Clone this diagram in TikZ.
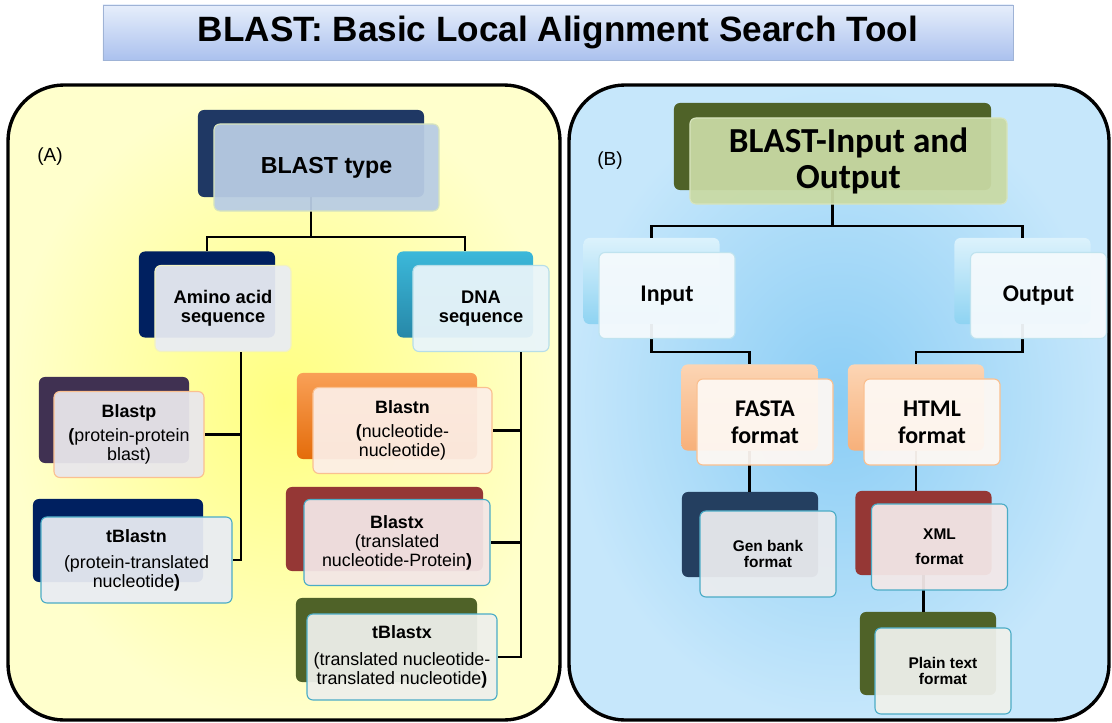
\documentclass[tikz,border=0pt]{standalone}
\usepackage{fontspec}
\setmainfont{Liberation Sans}
\newfontfamily\califont{Carlito}
\usepackage{tikz}
\definecolor{TitleTop}{HTML}{E6EEFB}
\definecolor{TitleBottom}{HTML}{ABC1EE}
\definecolor{TitleLine}{HTML}{9FB3D6}
\definecolor{LeftIn}{HTML}{FFFF80}
\definecolor{LeftOut}{HTML}{FFFFCC}
\definecolor{RightIn}{HTML}{8ACDF5}
\definecolor{RightOut}{HTML}{C6E7FB}
\definecolor{TypeNavy}{HTML}{1F3864}
\definecolor{DeepNavy}{HTML}{002060}
\definecolor{TypeFront}{HTML}{B8CCE4}
\definecolor{TypeLine}{HTML}{D7E4BD}
\definecolor{AminoFront}{HTML}{E9ECF3}
\definecolor{AminoLine}{HTML}{F2F2C2}
\definecolor{DnaTop}{HTML}{3BB8DA}
\definecolor{DnaBottom}{HTML}{2788A8}
\definecolor{DnaFront}{HTML}{E9F5FA}
\definecolor{DnaLine}{HTML}{B7DEE8}
\definecolor{BlastPurple}{HTML}{403152}
\definecolor{BlastpFront}{HTML}{E9E7EC}
\definecolor{PeachLine}{HTML}{FAC090}
\definecolor{OrangeTop}{HTML}{F9A057}
\definecolor{OrangeBottom}{HTML}{E46C0A}
\definecolor{BlastnFront}{HTML}{FCEEE6}
\definecolor{BlastMaroon}{HTML}{953735}
\definecolor{BlastxFront}{HTML}{F3E6E6}
\definecolor{BlastTeal}{HTML}{4BACC6}
\definecolor{BlastOlive}{HTML}{4F6228}
\definecolor{TblastxFront}{HTML}{EEF0EB}
\definecolor{IoFront}{HTML}{C9DAA4}
\definecolor{SkyTop}{HTML}{DCF2FC}
\definecolor{SkyBottom}{HTML}{8ED3F2}
\definecolor{SkyFront}{HTML}{F5FAFD}
\definecolor{SkyLine}{HTML}{BFE3EF}
\definecolor{PeachTop}{HTML}{FCD5B4}
\definecolor{PeachBottom}{HTML}{F7B07A}
\definecolor{PeachFront}{HTML}{FEF8F3}
\definecolor{GenNavy}{HTML}{243F60}
\definecolor{GenFront}{HTML}{EAECEF}
\definecolor{XmlFront}{HTML}{F3E8E8}
\definecolor{PlainFront}{HTML}{EFF1EC}

\begin{document}
\begin{tikzpicture}[x=0.025cm,y=-0.025cm,
    back/.style={rounded corners=0.15cm,minimum width=3.4cm,minimum height=2.15cm,inner sep=0pt},
    front/.style={rounded corners=0.15cm,minimum width=3.4cm,minimum height=2.15cm,inner sep=0pt,
      draw,line width=0.8pt,fill opacity=0.94,text opacity=1,align=center},
    link/.style={line width=1.7pt,black},
    panel/.style={line width=2.4pt,black,rounded corners=1.4cm},
    leaftext/.style={font=\fontsize{12.7}{13.5}\selectfont},
    smalltext/.style={font=\fontsize{11}{11.5}\selectfont\bfseries},
    caltext/.style={font=\califont\bfseries\fontsize{17}{19}\selectfont}]
  \useasboundingbox (0,0) rectangle (1112,723);
  \fill[white] (0,0) rectangle (1112,723);

  % title
  \node[draw=TitleLine,top color=TitleTop,bottom color=TitleBottom,minimum width=22.75cm,minimum height=1.375cm,
    font=\fontsize{25}{26}\selectfont\bfseries] (title) at (558,32.5) {BLAST: Basic Local Alignment Search Tool};

  % the two panels
  \draw[panel,inner color=LeftIn,outer color=LeftOut] (8,85) rectangle (560,720);
  \draw[panel,inner color=RightIn,outer color=RightOut] (569,85) rectangle (1109,720);
  \node[font=\fontsize{13.5}{14}\selectfont] (labela) at (50,157) {(A)};
  \node[font=\fontsize{13.5}{14}\selectfont] (labelb) at (610,161) {(B)};

  % (A) back boxes
  \node[back,fill=TypeNavy,minimum width=5.65cm,minimum height=2.175cm] (typeback) at (311,153.5) {};
  \node[back,fill=DeepNavy] (aminoback) at (207,294.5) {};
  \node[back,top color=DnaTop,bottom color=DnaBottom] (dnaback) at (465,294.5) {};
  \node[back,fill=BlastPurple,minimum width=3.75cm] (blastpback) at (114,420) {};
  \node[back,fill=DeepNavy,minimum width=4.25cm,minimum height=2.075cm] (tblastnback) at (118,540.5) {};
  \node[back,top color=OrangeTop,bottom color=OrangeBottom,minimum width=4.5cm] (blastnback) at (387,416) {};
  \node[back,fill=BlastMaroon,minimum width=4.925cm,minimum height=2.1cm] (blastxback) at (384.5,529) {};
  \node[back,fill=BlastOlive,minimum width=4.525cm,minimum height=2.1cm] (tblastxback) at (386.5,640) {};

  % (B) back boxes
  \node[back,fill=BlastOlive,minimum width=7.925cm,minimum height=2.175cm] (ioback) at (832.5,146.5) {};
  \node[back,top color=SkyTop,bottom color=SkyBottom] (inback) at (651.5,281) {};
  \node[back,top color=SkyTop,bottom color=SkyBottom] (outback) at (1022.5,281) {};
  \node[back,top color=PeachTop,bottom color=PeachBottom] (fastaback) at (749.5,407.5) {};
  \node[back,top color=PeachTop,bottom color=PeachBottom] (htmlback) at (916,407.5) {};
  \node[back,fill=GenNavy,minimum height=2.125cm] (genback) at (750,534.5) {};
  \node[back,fill=BlastMaroon,minimum height=2.1cm] (xmlback) at (923.5,533) {};
  \node[back,fill=BlastOlive,minimum height=2.075cm] (plainback) at (928,653.5) {};

  % links behind the front boxes
  \draw[link] (typeback.south) |- ([yshift=0.35cm]aminoback.north) -- (aminoback.north);
  \draw[link] (typeback.south) |- ([yshift=0.35cm]dnaback.north) -- (dnaback.north);
  \draw[link] (ioback.south) |- ([yshift=0.3cm]inback.north) -- (inback.north);
  \draw[link] (ioback.south) |- ([yshift=0.3cm]outback.north) -- (outback.north);
  \draw[link] (inback.south) |- ([yshift=0.3cm]fastaback.north) -- (fastaback.north);
  \draw[link] (outback.south) |- ([yshift=0.3cm]htmlback.north) -- (htmlback.north);
  \draw[link] (fastaback.south) -- (fastaback.south |- genback.north);
  \draw[link] (htmlback.south) -- (htmlback.south |- xmlback.north);
  \draw[link] (xmlback.south) -- (xmlback.south |- plainback.north);

  % (A) front boxes
  \node[front,draw=TypeLine,fill=TypeFront,minimum width=5.625cm,minimum height=2.175cm,
    font=\fontsize{16.5}{18}\selectfont\bfseries] (typefront) at (326.5,167.5) {BLAST type};
  \node[front,draw=AminoLine,fill=AminoFront,font=\fontsize{13}{13.5}\selectfont\bfseries] (aminofront) at (223,308.5) {Amino acid\\sequence};
  \node[front,draw=DnaLine,fill=DnaFront,font=\fontsize{13}{13.5}\selectfont\bfseries] (dnafront) at (481,308.5) {DNA\\sequence};
  \node[front,leaftext,draw=PeachLine,fill=BlastpFront,minimum width=3.75cm] (blastpfront) at (129,434.5)
    {\textbf{Blastp}\\[4pt]\textbf{(}protein-protein\\blast)};
  \node[front,leaftext,draw=BlastTeal,fill=AminoFront,minimum width=4.775cm] (tblastnfront) at (136.5,560)
    {\textbf{tBlastn}\\[5pt](protein-translated\\nucleotide\textbf{)}};
  \node[front,leaftext,draw=PeachLine,fill=BlastnFront,minimum width=4.475cm] (blastnfront) at (402.5,430.5)
    {\textbf{Blastn}\\[4pt]\textbf{(}nucleotide-\\nucleotide)};
  \node[front,leaftext,draw=BlastTeal,fill=BlastxFront,minimum width=4.65cm] (blastxfront) at (397,542.5)
    {\textbf{Blastx}\\(translated\\nucleotide-Protein\textbf{)}};
  \node[front,leaftext,draw=BlastTeal,fill=TblastxFront,minimum width=4.75cm] (tblastxfront) at (402,657)
    {\textbf{tBlastx}\\[6pt](translated nucleotide-\\translated nucleotide\textbf{)}};

  % (B) front boxes
  \node[front,draw=TypeLine,fill=IoFront,minimum width=7.925cm,
    font=\califont\bfseries\fontsize{25}{25.5}\selectfont] (iofront) at (848.5,161) {BLAST-Input and\\Output};
  \node[front,caltext,draw=SkyLine,fill=SkyFront] (infront) at (667,295.5) {Input};
  \node[front,caltext,draw=SkyLine,fill=SkyFront] (outfront) at (1038.5,295.5) {Output};
  \node[front,caltext,draw=PeachLine,fill=PeachFront] (fastafront) at (765,422) {FASTA\\format};
  \node[front,caltext,draw=PeachLine,fill=PeachFront] (htmlfront) at (932,422) {HTML\\format};
  \node[front,smalltext,draw=BlastTeal,fill=GenFront] (genfront) at (768,554) {Gen bank\\format};
  \node[front,smalltext,draw=BlastTeal,fill=XmlFront] (xmlfront) at (939.5,547) {XML\\[6pt]format};
  \node[front,smalltext,draw=BlastTeal,fill=PlainFront] (plainfront) at (943,671) {Plain text\\format};

  % side links to the leaf boxes
  \coordinate (aminotrunk) at ([xshift=0.45cm]aminofront.south);
  \coordinate (dnatrunk) at ([xshift=1cm]dnafront.south);
  \draw[link] (aminotrunk) |- (blastpfront.east);
  \draw[link] (aminotrunk) |- (tblastnfront.east);
  \draw[link] (dnatrunk) |- (blastnfront.east);
  \draw[link] (dnatrunk) |- (blastxfront.east);
  \draw[link] (dnatrunk) |- (tblastxfront.east);
\end{tikzpicture}
\end{document}
